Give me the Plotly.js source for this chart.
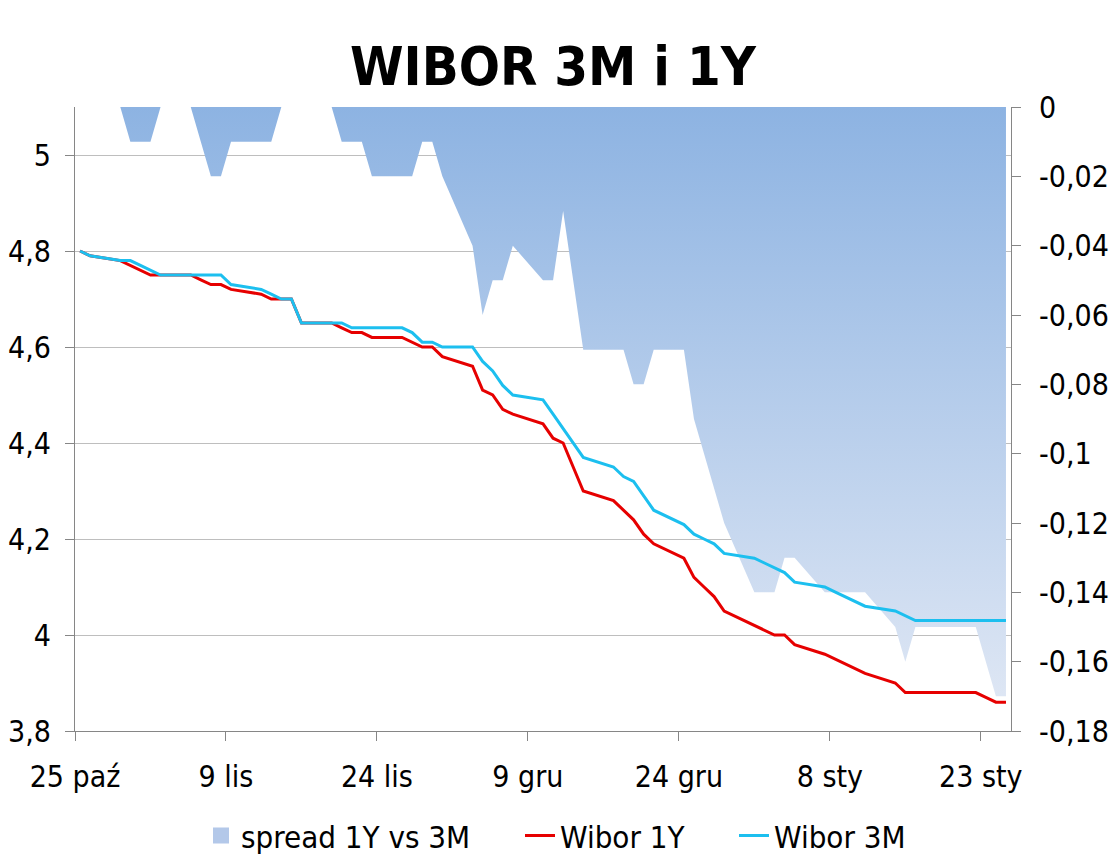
<!DOCTYPE html>
<html>
<head>
<meta charset="utf-8">
<script src="https://cdn.plot.ly/plotly-3.0.1.min.js"></script>
<style>
  html, body { margin: 0; padding: 0; background: #ffffff; }
  #chart { width: 1118px; height: 864px; }
</style>
</head>
<body>
<div id="chart"></div>
<script>
// Business days (fixing dates)
const dates = [
  "2012-10-25","2012-10-26","2012-10-29","2012-10-30","2012-10-31","2012-11-01","2012-11-02",
  "2012-11-05","2012-11-06","2012-11-07","2012-11-08","2012-11-09",
  "2012-11-12","2012-11-13","2012-11-14","2012-11-15","2012-11-16",
  "2012-11-19","2012-11-20","2012-11-21","2012-11-22","2012-11-23",
  "2012-11-26","2012-11-27","2012-11-28","2012-11-29","2012-11-30",
  "2012-12-03","2012-12-04","2012-12-05","2012-12-06","2012-12-07",
  "2012-12-10","2012-12-11","2012-12-12","2012-12-13","2012-12-14",
  "2012-12-17","2012-12-18","2012-12-19","2012-12-20","2012-12-21",
  "2012-12-24","2012-12-25","2012-12-26","2012-12-27","2012-12-28",
  "2012-12-31","2013-01-01","2013-01-02","2013-01-03","2013-01-04",
  "2013-01-07","2013-01-08","2013-01-09","2013-01-10","2013-01-11",
  "2013-01-14","2013-01-15","2013-01-16","2013-01-17","2013-01-18",
  "2013-01-21","2013-01-22","2013-01-23","2013-01-24","2013-01-25"
];

const wibor3M = [
  4.80,4.79,4.78,4.78,4.77,4.76,4.75,
  4.75,4.75,4.75,4.75,4.73,
  4.72,4.71,4.70,4.70,4.65,
  4.65,4.65,4.64,4.64,4.64,
  4.64,4.63,4.61,4.61,4.60,
  4.60,4.57,4.55,4.52,4.50,
  4.49,4.46,4.43,4.40,4.37,
  4.35,4.33,4.32,4.29,4.26,
  4.23,4.21,4.20,4.19,4.17,
  4.16,4.15,4.14,4.13,4.11,
  4.10,4.09,4.08,4.07,4.06,
  4.05,4.04,4.03,4.03,4.03,
  4.03,4.03,4.03,4.03,4.03
];

const wibor1Y = [
  4.80,4.79,4.78,4.77,4.76,4.75,4.75,
  4.75,4.74,4.73,4.73,4.72,
  4.71,4.70,4.70,4.70,4.65,
  4.65,4.64,4.63,4.63,4.62,
  4.62,4.61,4.60,4.60,4.58,
  4.56,4.51,4.50,4.47,4.46,
  4.44,4.41,4.40,4.35,4.30,
  4.28,4.26,4.24,4.21,4.19,
  4.16,4.12,4.10,4.08,4.05,
  4.02,4.01,4.00,4.00,3.98,
  3.96,3.95,3.94,3.93,3.92,
  3.90,3.88,3.88,3.88,3.88,
  3.88,3.88,3.87,3.86,3.86
];

const spread = [
  0,0,0,-0.01,-0.01,-0.01,0,
  0,-0.01,-0.02,-0.02,-0.01,
  -0.01,-0.01,0,0,0,
  0,-0.01,-0.01,-0.01,-0.02,
  -0.02,-0.02,-0.01,-0.01,-0.02,
  -0.04,-0.06,-0.05,-0.05,-0.04,
  -0.05,-0.05,-0.03,-0.05,-0.07,
  -0.07,-0.07,-0.08,-0.08,-0.07,
  -0.07,-0.09,-0.10,-0.11,-0.12,
  -0.14,-0.14,-0.14,-0.13,-0.13,
  -0.14,-0.14,-0.14,-0.14,-0.14,
  -0.15,-0.16,-0.15,-0.15,-0.15,
  -0.15,-0.15,-0.16,-0.17,-0.17
];

const xTickVals = ["2012-10-25","2012-11-09","2012-11-24","2012-12-09","2012-12-24","2013-01-08","2013-01-23"];
const xTickText = ["25 paź","9 lis","24 lis","9 gru","24 gru","8 sty","23 sty"];

const leftTickVals = [3.8, 4.0, 4.2, 4.4, 4.6, 4.8, 5.0];
const leftTickText = ["3,8","4","4,2","4,4","4,6","4,8","5"];

const rightTickVals = [0,-0.02,-0.04,-0.06,-0.08,-0.1,-0.12,-0.14,-0.16,-0.18];
const rightTickText = ["0","-0,02","-0,04","-0,06","-0,08","-0,1","-0,12","-0,14","-0,16","-0,18"];

// each fixing plotted in the middle of its day slot
const xMid = dates.map(d => d + " 12:00");

const FONT = "DejaVu Sans Condensed, DejaVu Sans, sans-serif";
const TICK = 30;

const traces = [
  {
    name: "spread 1Y vs 3M",
    showlegend: false,
    x: xMid, y: spread,
    type: "scatter", mode: "lines",
    xaxis: "x", yaxis: "y",
    line: { width: 0, color: "#8DB3E2" },
    fill: "tozeroy",
    fillcolor: "#B4C8EA",
    fillgradient: {
      type: "vertical",
      start: -0.18, stop: 0,
      colorscale: [[0, "#E2E9F5"], [1, "#8DB3E2"]]
    },
    hoverinfo: "skip"
  },
  {
    // legend swatch for the spread area (square, as in the original legend)
    name: "spread 1Y vs 3M",
    legend: "legend",
    showlegend: true,
    x: [null], y: [null],
    type: "scatter", mode: "markers",
    xaxis: "x", yaxis: "y",
    marker: { symbol: "square", size: 20, color: "#B3C8E9", line: { width: 0 } },
    hoverinfo: "skip"
  },
  {
    name: "Wibor 1Y",
    legend: "legend2",
    x: xMid, y: wibor1Y,
    type: "scatter", mode: "lines",
    xaxis: "x", yaxis: "y2",
    line: { color: "#E60000", width: 3 }
  },
  {
    name: "Wibor 3M",
    legend: "legend3",
    x: xMid, y: wibor3M,
    type: "scatter", mode: "lines",
    xaxis: "x", yaxis: "y2",
    line: { color: "#1CBFEF", width: 3 }
  }
];

function legendAt(xPaper) {
  return {
    orientation: "h",
    x: xPaper, xref: "paper", xanchor: "left",
    y: -0.168, yref: "paper", yanchor: "middle",
    font: { family: FONT, size: 31, color: "#000000" },
    itemwidth: 30,
    bgcolor: "rgba(0,0,0,0)",
    borderwidth: 0
  };
}

const layout = {
  width: 1118, height: 864,
  paper_bgcolor: "#ffffff", plot_bgcolor: "#ffffff",
  margin: { l: 75, r: 107, t: 107, b: 133, pad: 0, autoexpand: false },
  font: { family: FONT, size: TICK, color: "#000000" },
  title: {
    text: "<b>WIBOR 3M i 1Y</b>",
    font: { family: FONT, size: 54, color: "#000000" },
    x: 0.4946, xref: "container", xanchor: "center",
    y: 1 - 66/864, yref: "container", yanchor: "middle"
  },
  showlegend: true,
  legend: legendAt((201 - 75) / 936),
  legend2: legendAt((520 - 75) / 936),
  legend3: legendAt((734 - 75) / 936),
  xaxis: {
    type: "date",
    range: ["2012-10-25", "2013-01-26"],
    tickvals: xTickVals, ticktext: xTickText,
    tickangle: 0,
    ticks: "outside", ticklen: 9, tickcolor: "#868686", tickwidth: 1,
    ticklabelstandoff: 10,
    showline: true, linecolor: "#868686", linewidth: 1,
    showgrid: false, zeroline: false,
    tickfont: { family: FONT, size: TICK, color: "#000000" },
    fixedrange: true
  },
  yaxis: {
    range: [-0.18, 0],
    side: "right",
    tickvals: rightTickVals, ticktext: rightTickText,
    ticks: "outside", ticklen: 9, tickcolor: "#868686", tickwidth: 1,
    ticklabelstandoff: 12,
    showline: true, linecolor: "#868686", linewidth: 1,
    showgrid: false, zeroline: false,
    tickfont: { family: FONT, size: TICK, color: "#000000" },
    fixedrange: true
  },
  yaxis2: {
    range: [3.8, 5.1],
    overlaying: "y",
    side: "left",
    tickvals: leftTickVals, ticktext: leftTickText,
    ticks: "outside", ticklen: 9, tickcolor: "#868686", tickwidth: 1,
    ticklabelstandoff: 8,
    showline: true, linecolor: "#868686", linewidth: 1,
    showgrid: true, gridcolor: "#BEBEBE", gridwidth: 1,
    zeroline: false,
    tickfont: { family: FONT, size: TICK, color: "#000000" },
    fixedrange: true
  }
};

Plotly.newPlot("chart", traces, layout, { staticPlot: true, displayModeBar: false });
</script>
</body>
</html>
